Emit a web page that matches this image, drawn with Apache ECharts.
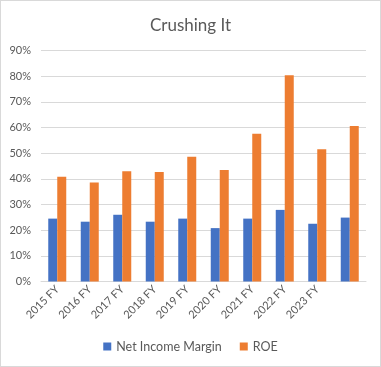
<!DOCTYPE html>
<html><head><meta charset="utf-8">
<script src="https://cdn.jsdelivr.net/npm/echarts@6/dist/echarts.min.js"></script>
<style>
html,body{margin:0;padding:0;background:#fff;}
#c{position:absolute;left:0;top:0;width:379px;height:365px;border:1px solid #d9d9d9;}
</style></head>
<body><div id="c"></div>
<script>
const categories = ['2015 FY','2016 FY','2017 FY','2018 FY','2019 FY','2020 FY','2021 FY','2022 FY','2023 FY',''];
const netIncomeMargin = [24.5,23.3,26.0,23.3,24.5,20.8,24.5,27.9,22.5,24.9];
const roe = [40.8,38.6,43.0,42.7,48.6,43.4,57.6,80.4,51.5,60.6];
const yTicks = [0,10,20,30,40,50,60,70,80,90];

const font = 'Lato';
const chart = echarts.init(document.getElementById('c'));
chart.setOption({
  animation:false,
  title:{text:'Crushing It',left:'center',top:11,textStyle:{fontFamily:font,fontSize:17,fontWeight:'normal',color:'#595959'}},
  grid:{left:40,right:14,top:49.5,bottom:84.5},
  legend:{bottom:8,itemWidth:8,itemHeight:8,itemGap:18,icon:'rect',
    textStyle:{fontFamily:font,fontSize:12.5,color:'#595959'},
    data:['Net Income Margin','ROE']},
  xAxis:{type:'category',data:categories,
    axisLine:{lineStyle:{color:'#d9d9d9'}},axisTick:{show:false},
    axisLabel:{rotate:45,interval:0,fontFamily:font,fontSize:11,color:'#595959',margin:6}},
  yAxis:{type:'value',min:yTicks[0],max:yTicks[yTicks.length-1],interval:10,
    axisLine:{show:false},axisTick:{show:false},
    splitLine:{lineStyle:{color:'#d9d9d9'}},
    axisLabel:{formatter:v=>v+'%',fontFamily:font,fontSize:11,color:'#595959',margin:10}},
  series:[
    {name:'Net Income Margin',type:'bar',data:netIncomeMargin,itemStyle:{color:'#4472C4'},barWidth:9,barGap:'0%'},
    {name:'ROE',type:'bar',data:roe,itemStyle:{color:'#ED7D31'},barWidth:9,barGap:'0%'}
  ]
});
</script></body></html>
